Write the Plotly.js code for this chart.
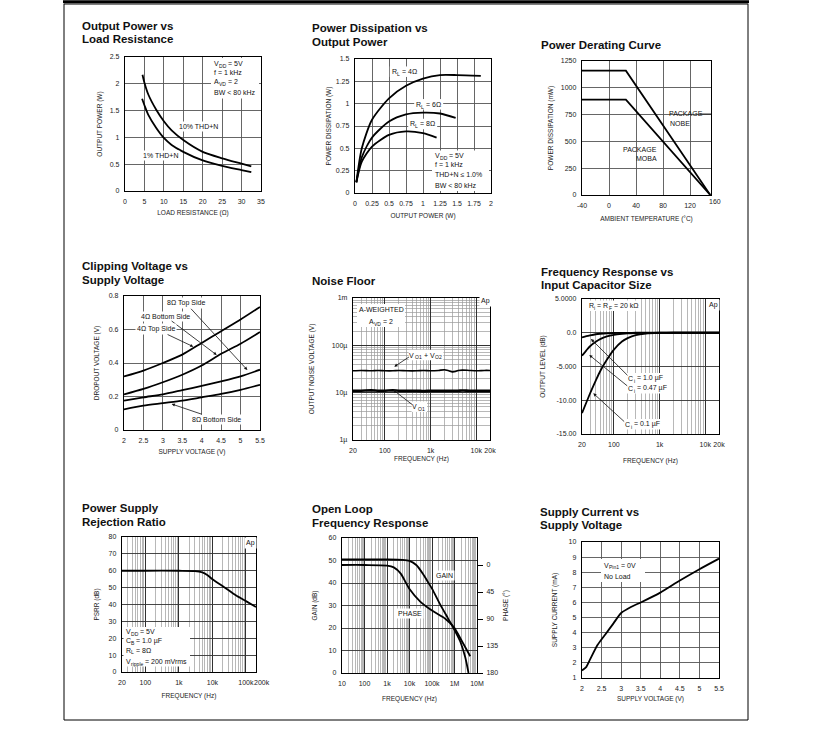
<!DOCTYPE html>
<html><head><meta charset="utf-8">
<script src="https://cdn.plot.ly/plotly-3.0.1.min.js"></script>
<style>html,body{margin:0;padding:0;background:#fff}#c{width:816px;height:729px}</style>
</head><body><div id="c"></div>
<script>
// ---------- DATA ----------
// 1. Output Power vs Load Resistance
const loadRes10 = [4.5,5,6,8,10,12,15,20,25,30,32.5];
const outPow10  = [2.17,2.02,1.8,1.52,1.3,1.13,0.95,0.73,0.61,0.51,0.46];
const loadRes1  = [4.4,5,6,8,10,12,15,20,25,30,32.5];
const outPow1   = [1.72,1.6,1.42,1.18,0.99,0.86,0.73,0.57,0.47,0.39,0.35];
// 2. Power Dissipation vs Output Power
const po4 = [0.02,0.1,0.25,0.5,0.75,1.0,1.25,1.5,1.85];
const pd4 = [0.12,0.5,0.82,1.06,1.2,1.28,1.32,1.32,1.31];
const po6 = [0.02,0.1,0.25,0.5,0.75,1.0,1.25,1.48];
const pd6 = [0.12,0.4,0.62,0.8,0.88,0.9,0.89,0.84];
const po8 = [0.02,0.1,0.25,0.5,0.75,1.0,1.2];
const pd8 = [0.12,0.35,0.52,0.65,0.69,0.67,0.62];
// 3. Power Derating Curve
const ambTemp = [-40,25,150];
const pdNOBE  = [1160,1160,0];
const pdMOBA  = [890,890,0];
// 4. Clipping Voltage vs Supply Voltage
const supplyV = [2,2.5,3,3.5,4,4.5,5,5.5];
const clip4Top = [0.32,0.355,0.4,0.45,0.52,0.59,0.66,0.735];
const clip4Bot = [0.212,0.245,0.285,0.33,0.385,0.455,0.515,0.585];
const clip8Top = [0.175,0.195,0.213,0.238,0.263,0.29,0.32,0.36];
const clip8Bot = [0.123,0.145,0.16,0.175,0.195,0.215,0.24,0.27];
// 5. Noise Floor (V)
const noiseFreq = [20,30,50,70,100,150,200,300,500,700,1000,1500,2000,2500,3000,3500,4000,5000,7000,10000,15000,20000];
const noiseVo12 = [29e-6,29.5e-6,29e-6,29.5e-6,29e-6,29e-6,29.5e-6,29e-6,29e-6,29.5e-6,29e-6,29.5e-6,30.5e-6,29e-6,27.5e-6,28e-6,29.5e-6,30e-6,29.5e-6,29e-6,29.5e-6,29.5e-6];
const noiseVo1  = [11e-6,11e-6,11.2e-6,11e-6,11e-6,11.2e-6,11e-6,11e-6,11e-6,10.8e-6,11e-6,11e-6,11e-6,11e-6,11e-6,11e-6,11e-6,11.1e-6,11e-6,11e-6,11e-6,11e-6];
// 6. Frequency Response vs Input Capacitor Size (dB)
const frFreq = [20,25,30,40,50,70,100,150,200,300,500,1000,2000,5000,10000,20000];
const fr1u   = [-0.7,-0.5,-0.38,-0.22,-0.15,-0.08,-0.04,-0.02,-0.01,0,0,0,0,0,0,0];
const fr047u = [-3.4,-2.6,-2.0,-1.35,-0.95,-0.55,-0.3,-0.15,-0.08,-0.04,-0.02,0,0,0,0,0];
const fr01u  = [-11.9,-10.3,-9.0,-7.1,-5.7,-4.0,-2.5,-1.3,-0.8,-0.35,-0.12,-0.03,0,0,0,0];
// 7. PSRR
const psrrFreq = [20,100,1000,3000,5000,7000,10000,20000,50000,100000,200000];
const psrrDb   = [60,60,60,59.8,59,57.5,55,51,45.5,42,38.5];
// 8. Open Loop Frequency Response
const olFreqG = [10,1000,5000,10000,20000,40000,70000,100000,230000,500000,900000,1800000,3000000,4200000];
const olGain  = [50.5,50.5,50.3,49.8,48,44,40,37.5,30.5,24.5,20,14,7,0];
const olFreqP = [10,100,1000,2000,4000,10000,30000,100000,400000,1000000,2000000,5000000];
const olPhase = [0,0,1,4,14,40,61,76,90,105,125,152];
// 9. Supply Current vs Supply Voltage
const scVolt = [2,2.1,2.2,2.4,2.6,2.8,3,3.25,3.5,4,4.5,5,5.5];
const scCurr = [1.5,1.7,2.2,3.2,3.9,4.6,5.3,5.7,6.0,6.65,7.45,8.2,8.9];

// tick labels
const freqTicks20k = [20,100,1000,10000,20000];
const freqText20k  = ['20','100','1k','10k','20k'];
const noiseTicks = [1e-6,1e-5,1e-4,1e-3];
const noiseText  = ['1\u00b5','10\u00b5','100\u00b5','1m'];
const frLevelTicks = [5,0,-5,-10,-15];
const frLevelText  = ['5.0000','0.0','-5.000','-10.00','-15.00'];
const psrrTicks = [20,100,1000,10000,100000];
const psrrText  = ['20','100','1k','10k','100k'];
const olTicks = [10,100,1000,10000,100000,1000000,10000000];
const olText  = ['10','100','1k','10k','100k','1M','10M'];
const phaseTicks = [0,45,90,135,180];
const tempTicks = [-40,0,40,80,120];
const tempText  = ['-40','0','40','80','120'];

// ---------- LAYOUT ----------
const W=816, H=729;
const px = x => x/W, py = y => 1 - y/H;
const boxes = {
 1:{l:125,r:261,t:57,b:191}, 2:{l:355,r:491,t:59,b:193}, 3:{l:582,r:711,t:61,b:195},
 4:{l:124,r:260,t:296,b:430}, 5:{l:353,r:490,t:298,b:440}, 6:{l:582,r:719,t:299,b:434},
 7:{l:122,r:256,t:537,b:672}, 8:{l:342,r:477,t:538,b:673}, 9:{l:582,r:719,t:542,b:678}
};
const FONTNAME = 'Liberation Sans';
const FONT = 'Liberation Sans, Arial, sans-serif';
const AF = {family:FONT,size:6.5,color:'#222'};
const common = {showline:true, mirror:true, linecolor:'#000', linewidth:1.2, showgrid:true,
  gridcolor:'#555', gridwidth:0.9, zeroline:false, ticks:'', ticklabelstandoff:3, tickangle:0,
  automargin:false, tickfont:{family:FONT, size:7, color:'#222'}, fixedrange:true};
const logMinor = {showgrid:true, gridcolor:'#9a9a9a', gridwidth:0.7, dtick:'D1', ticks:''};
function ttl(text,s){return {title:{text,font:AF,standoff:s}};}
function xa(i,o){const b=boxes[i];return Object.assign({},common,{domain:[px(b.l),px(b.r)],anchor:i===1?'y':'y'+i},o);}
function ya(i,o){const b=boxes[i];return Object.assign({},common,{domain:[py(b.b),py(b.t)],anchor:i===1?'x':'x'+i},o);}

const shapes = [
  {type:'rect',xref:'paper',yref:'paper',x0:px(64),x1:px(748),y0:py(720),y1:py(4),line:{color:'#000',width:1}},
  {type:'line',xref:'paper',yref:'paper',x0:px(63),x1:px(749),y0:py(1.8),y1:py(1.8),line:{color:'#000',width:3}},
  {type:'line',xref:'paper',yref:'paper',x0:px(700),x1:px(711),y0:py(114),y1:py(114),line:{color:'#000',width:0.8}}
];
const layout = {
  width:W, height:H, margin:{l:0,r:0,t:0,b:0}, showlegend:false,
  paper_bgcolor:'#fff', plot_bgcolor:'#fff',
  xaxis: xa(1,Object.assign({range:[0,35],dtick:5,tick0:0},ttl('LOAD RESISTANCE (\u03a9)',6))),
  yaxis: ya(1,Object.assign({range:[0,2.5],dtick:0.5,tick0:0},ttl('OUTPUT POWER (W)',6))),
  xaxis2: xa(2,Object.assign({range:[0,2],dtick:0.25,tick0:0},ttl('OUTPUT POWER (W)',7))),
  yaxis2: ya(2,Object.assign({range:[0,1.5],dtick:0.25,tick0:0},ttl('POWER DISSIPATION (W)',3))),
  xaxis3: xa(3,Object.assign({range:[-40,151],tickmode:'array',tickvals:tempTicks,ticktext:tempText},ttl('AMBIENT TEMPERATURE (\u00b0C)',8))),
  yaxis3: ya(3,Object.assign({range:[0,1250],dtick:250,tick0:0},ttl('POWER DISSIPATION (mW)',6))),
  xaxis4: xa(4,Object.assign({range:[2,5.5],dtick:0.5,tick0:2},ttl('SUPPLY VOLTAGE (V)',6))),
  yaxis4: ya(4,Object.assign({range:[0,0.8],dtick:0.2,tick0:0},ttl('DROPOUT VOLTAGE (V)',8))),
  xaxis5: xa(5,Object.assign({type:'log',range:[Math.log10(20),Math.log10(20000)],tickmode:'array',tickvals:freqTicks20k,ticktext:freqText20k,gridcolor:'#222',minor:logMinor},ttl('FREQUENCY (Hz)',3))),
  yaxis5: ya(5,Object.assign({type:'log',range:[-6,-3],tickmode:'array',tickvals:noiseTicks,ticktext:noiseText,gridcolor:'#222',minor:logMinor},ttl('OUTPUT NOISE VOLTAGE (V)',16))),
  xaxis6: xa(6,Object.assign({type:'log',range:[Math.log10(20),Math.log10(20000)],tickmode:'array',tickvals:freqTicks20k,ticktext:freqText20k,gridcolor:'#222',minor:logMinor},ttl('FREQUENCY (Hz)',11))),
  yaxis6: ya(6,Object.assign({range:[-15,5],tickmode:'array',tickvals:frLevelTicks,ticktext:frLevelText,gridcolor:'#333'},ttl('OUTPUT LEVEL (dB)',8))),
  xaxis7: xa(7,Object.assign({type:'log',range:[Math.log10(20),Math.log10(200000)],tickmode:'array',tickvals:psrrTicks,ticktext:psrrText,gridcolor:'#222',minor:logMinor},ttl('FREQUENCY (Hz)',8))),
  yaxis7: ya(7,Object.assign({range:[0,80],dtick:10,tick0:0,gridcolor:'#333'},ttl('PSRR (dB)',8))),
  xaxis8: xa(8,Object.assign({type:'log',range:[1,7],tickmode:'array',tickvals:olTicks,ticktext:olText,gridcolor:'#222',minor:logMinor},ttl('FREQUENCY (Hz)',10))),
  yaxis8: ya(8,Object.assign({range:[0,60],dtick:10,tick0:0,gridcolor:'#333'},ttl('GAIN (dB)',10))),
  yaxis10: Object.assign({},common,{overlaying:'y8',anchor:'x8',side:'right',range:[180,-45],tickmode:'array',tickvals:phaseTicks,
           showgrid:false,showline:false,mirror:false,ticks:'outside',ticklen:5,tickcolor:'#000',tickwidth:1,ticklabelstandoff:2},
           ttl('PHASE (\u00b0)',6)),
  xaxis9: xa(9,Object.assign({range:[2,5.5],dtick:0.5,tick0:2},ttl('SUPPLY VOLTAGE (V)',5))),
  yaxis9: ya(9,Object.assign({range:[1,10],dtick:1,tick0:1},ttl('SUPPLY CURRENT (mA)',10))),
  annotations: [],
  shapes: shapes
};

// ---------- TRACES ----------
const sp = w => ({color:'#000',width:w||1.8,shape:'spline',smoothing:0.7});
const ln = w => ({color:'#000',width:w||1.8});
const traces = [
  {x:loadRes10,y:outPow10,xaxis:'x',yaxis:'y',mode:'lines',line:sp()},
  {x:loadRes1,y:outPow1,xaxis:'x',yaxis:'y',mode:'lines',line:sp()},
  {x:po4,y:pd4,xaxis:'x2',yaxis:'y2',mode:'lines',line:sp()},
  {x:po6,y:pd6,xaxis:'x2',yaxis:'y2',mode:'lines',line:sp()},
  {x:po8,y:pd8,xaxis:'x2',yaxis:'y2',mode:'lines',line:sp()},
  {x:ambTemp,y:pdNOBE,xaxis:'x3',yaxis:'y3',mode:'lines',line:ln()},
  {x:ambTemp,y:pdMOBA,xaxis:'x3',yaxis:'y3',mode:'lines',line:ln()},
  {x:supplyV,y:clip4Top,xaxis:'x4',yaxis:'y4',mode:'lines',line:sp()},
  {x:supplyV,y:clip4Bot,xaxis:'x4',yaxis:'y4',mode:'lines',line:sp()},
  {x:supplyV,y:clip8Top,xaxis:'x4',yaxis:'y4',mode:'lines',line:sp()},
  {x:supplyV,y:clip8Bot,xaxis:'x4',yaxis:'y4',mode:'lines',line:sp()},
  {x:noiseFreq,y:noiseVo12,xaxis:'x5',yaxis:'y5',mode:'lines',line:sp(1.6)},
  {x:noiseFreq,y:noiseVo1,xaxis:'x5',yaxis:'y5',mode:'lines',line:sp(2.6)},
  {x:frFreq,y:fr1u,xaxis:'x6',yaxis:'y6',mode:'lines',line:sp()},
  {x:frFreq,y:fr047u,xaxis:'x6',yaxis:'y6',mode:'lines',line:sp()},
  {x:frFreq,y:fr01u,xaxis:'x6',yaxis:'y6',mode:'lines',line:sp()},
  {x:psrrFreq,y:psrrDb,xaxis:'x7',yaxis:'y7',mode:'lines',line:sp()},
  {x:olFreqG,y:olGain,xaxis:'x8',yaxis:'y8',mode:'lines',line:sp()},
  {x:olFreqP,y:olPhase,xaxis:'x8',yaxis:'y10',mode:'lines',line:sp()},
  {x:scVolt,y:scCurr,xaxis:'x9',yaxis:'y9',mode:'lines',line:sp()}
];

// ---------- TEXT ----------
const ann = layout.annotations;
const ctx = document.createElement('canvas').getContext('2d');
function meas(t,size){ctx.font = size+'px "'+FONTNAME+'"'; return ctx.measureText(t).width;}
const esc = t => t.replace(/&/g,'&amp;').replace(/</g,'&lt;');
const ARW = {arrowhead:2,arrowsize:0.8,arrowwidth:0.8,arrowcolor:'#111',standoff:0};
function T(text,x,y,o){ann.push(Object.assign({text,x:px(x),y:py(y),xref:'paper',yref:'paper',showarrow:false,
  xanchor:'center',yanchor:'middle',font:{family:FONT,size:7,color:'#111'}},o||{}));}
function A(text,tx,ty,hx,hy,o){ann.push(Object.assign({text,x:px(hx),y:py(hy),xref:'paper',yref:'paper',showarrow:true,
  ax:tx-hx,ay:ty-hy,font:{family:FONT,size:7,color:'#111'},bgcolor:'#fff'},ARW,o||{}));}
function whiteBox(x0,y0,x1,y1){shapes.push({type:'rect',layer:'above',xref:'paper',yref:'paper',
  x0:px(x0),x1:px(x1),y0:py(y1),y1:py(y0),fillcolor:'#fff',line:{width:0}});}
// text with subscripts, built from pieces: segs = [[text, isSub], ...]
function rich(segs,x,y,o){
  o=o||{}; const size=o.size||7, ss=size*0.72;
  const ws=segs.map(([t,s])=>meas(t,s?ss:size));
  const total=ws.reduce((a,b)=>a+b,0);
  let cx = o.anchor==='left'? x : o.anchor==='right'? x-total : x-total/2;
  if(o.bg) whiteBox(cx-1,y-size*0.75,cx+total+3,y+size*0.75);
  segs.forEach(([t,s],i)=>{
    const fs=s?ss:size, nLead=t.length-t.trimStart().length, lead=nLead?meas(t.slice(0,nLead),fs):0;
    const shown=t.trim(), yy=y+(s?size*0.33:0), w=meas(shown,fs);
    const a={text:esc(shown),xref:'paper',yref:'paper',showarrow:false,xanchor:'left',yanchor:'middle',borderpad:0,
      font:{family:FONT,size:fs,color:'#111'},x:px(cx+lead),y:py(yy)};
    if(i===0 && o.arrow){const [hx,hy]=o.arrow; const c=cx+lead+w/2;
      Object.assign(a,{x:px(hx),y:py(hy),showarrow:true,ax:c-hx,ay:yy-hy,xanchor:'auto',yanchor:'auto'},ARW);}
    ann.push(a); cx+=ws[i];
  });
  return total;
}

const TT = {font:{family:FONT,size:11.5,color:'#111'},xanchor:'left'};
// chart titles
T('<b>Output Power vs</b>',80,26,TT); T('<b>Load Resistance</b>',80,39.5,TT);
T('<b>Power Dissipation vs</b>',310,28.3,TT); T('<b>Output Power</b>',310,42,TT);
T('<b>Power Derating Curve</b>',539,45,TT);
T('<b>Clipping Voltage vs</b>',80,266,TT); T('<b>Supply Voltage</b>',80,279.5,TT);
T('<b>Noise Floor</b>',310,281,TT);
T('<b>Frequency Response vs</b>',539,271.7,TT); T('<b>Input Capacitor Size</b>',539,285,TT);
T('<b>Power Supply</b>',80,507.7,TT); T('<b>Rejection Ratio</b>',80,521.5,TT);
T('<b>Open Loop</b>',310,509,TT); T('<b>Frequency Response</b>',310,523,TT);
T('<b>Supply Current vs</b>',538,511.7,TT); T('<b>Supply Voltage</b>',538,525,TT);
// extra tick labels placed beside crowded / out-of-range ends
const TK = {font:{family:FONT,size:7,color:'#222'}};
T('160',715,202,TK);
T('200k',262,682.5,TK);
const L = {anchor:'left'};
// panel 1
whiteBox(211,58,259,98.5);
rich([['V',0],['DD',1],[' = 5V',0]],213,63.3,L);
rich([['f = 1 kHz',0]],213,72.5,L);
rich([['A',0],['VD',1],[' = 2',0]],213,81.5,L);
rich([['BW < 80 kHz',0]],213,93,L);
T('10% THD+N',198.3,126,{bgcolor:'#fff'});
T('1% THD+N',160.7,155.7,{bgcolor:'#fff'});
// panel 2
rich([['R',0],['L',1],[' = 4\u03a9',0]],403.3,71.7,{bg:true});
rich([['R',0],['L',1],[' = 6\u03a9',0]],427.7,104.3,{bg:true});
rich([['R',0],['L',1],[' = 8\u03a9',0]],421.7,124,{bg:true});
whiteBox(432,150.5,489,191);
rich([['V',0],['DD',1],[' = 5V',0]],434,155.7,L);
rich([['f = 1 kHz',0]],434,165,L);
rich([['THD+N \u2264 1.0%',0]],434,174.3,L);
rich([['BW < 80 kHz',0]],434,185.5,L);
// panel 3
T('PACKAGE',666.5,113.5,{xanchor:'left'}); T('NOBE',667.5,123.5,{xanchor:'left'});
T('PACKAGE',659,149,{xanchor:'right'}); T('MOBA',659,158.5,{xanchor:'right'});
// panel 4
A('8\u03a9 Top Side',186,303.3,247.3,370);
A('4\u03a9 Bottom Side',165,316,216.7,355);
A('4\u03a9 Top Side',156,329,193.3,346.7);
A('8\u03a9 Bottom Side',216.7,419.3,171.7,404);
// panel 5
whiteBox(357,304,405,327);
rich([['A-WEIGHTED',0]],380,309.3);
rich([['A',0],['VD',1],[' = 2',0]],380,321.2);
T('Ap',485,301,{bgcolor:'#fff'});
rich([['V',0],['O1',1],[' + V',0],['O2',1]],425,355,{bg:true,arrow:[394.3,366.7]});
rich([['V',0],['O1',1]],418.3,406.7,{bg:true,arrow:[393.3,390]});
// panel 6
rich([['R',0],['i',1],[' = R',0],['F',1],[' = 20 k\u03a9',0]],612.7,305.7,{bg:true});
T('Ap',713.3,305,{bgcolor:'#fff'});
rich([['C',0],['i',1],[' = 1.0 \u00b5F',0]],645,378.3,{bg:true,arrow:[591,339]});
rich([['C',0],['i',1],[' = 0.47 \u00b5F',0]],646.7,388.3,{bg:true,arrow:[589.3,355]});
rich([['C',0],['i',1],[' = 0.1 \u00b5F',0]],641.7,424.3,{bg:true,arrow:[593.3,393.3]});
// panel 7
T('Ap',250.7,543.3,{bgcolor:'#fff'});
whiteBox(123.5,627,190,666.5);
rich([['V',0],['DD',1],[' = 5V',0]],125,631.7,L);
rich([['C',0],['B',1],[' = 1.0 \u00b5F',0]],125,640.7,L);
rich([['R',0],['L',1],[' = 8\u03a9',0]],125,650,L);
rich([['V',0],['ripple',1],[' = 200 mVrms',0]],125,661.5,L);
// panel 8
T('GAIN',445,575,{bgcolor:'#fff'});
T('PHASE',410,613.3,{bgcolor:'#fff'});
// panel 9
whiteBox(601,559,645,582);
rich([['V',0],['Pin1',1],[' = 0V',0]],603,565,L);
rich([['No Load',0]],603,576.7,L);

Plotly.newPlot('c',traces,layout,{displayModeBar:false,staticPlot:true});
</script></body></html>
